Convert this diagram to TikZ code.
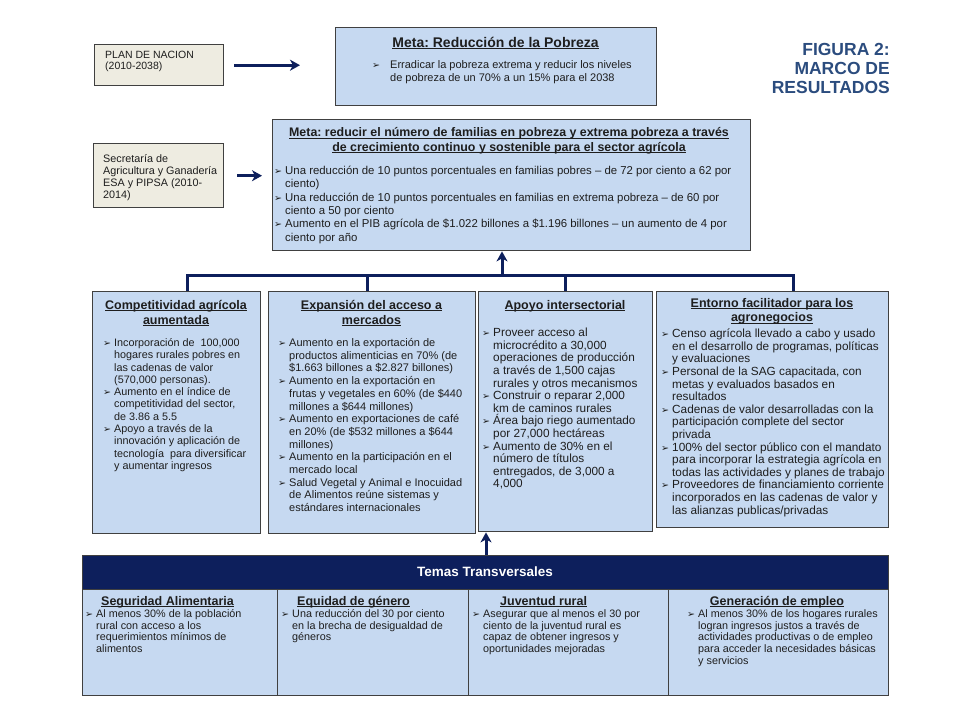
\documentclass[tikz,border=0pt]{standalone}
\usepackage{fontspec}
\setmainfont{Liberation Sans}
\newfontfamily\dvfont{DejaVu Sans}
\usetikzlibrary{arrows.meta}
\frenchspacing
\definecolor{lblue}{HTML}{C6D9F1}
\definecolor{beige}{HTML}{EEECE1}
\definecolor{bord}{HTML}{404040}
\definecolor{navy}{HTML}{0D1F5C}
\definecolor{figc}{HTML}{2B4C7E}
\definecolor{txtc}{HTML}{1E1E1E}
\newsavebox\ulbox
\newcommand{\ul}[1]{\sbox\ulbox{#1}\rlap{\rule[-0.14em]{\wd\ulbox}{0.07em}}\usebox\ulbox}
\newcommand{\lnstrut}{\rule{0pt}{1em}}
\newcommand{\bl}{\makebox[11pt][l]{\dvfont\fontsize{9.5}{9.5}\selectfont\char"27A2}}
\newcommand{\ci}{\hspace*{11pt}}
\newcommand{\blw}{\makebox[18pt][l]{\dvfont\fontsize{9.5}{9.5}\selectfont\char"27A2}}
\newcommand{\ciw}{\hspace*{18pt}}
\begin{document}
\begin{tikzpicture}[x=1pt,y=-1pt,
  bbox/.style={draw=bord,line width=1.4pt,fill=lblue,anchor=north west,inner sep=0pt},
  tbox/.style={draw=bord,line width=1.4pt,fill=beige,anchor=north west,inner sep=0pt},
  cellbox/.style={draw=bord,line width=1.2pt,fill=lblue,anchor=north west,inner sep=0pt},
  conn/.style={draw=navy,line width=3pt},
  arr/.style={draw=navy,line width=3pt,-{Stealth[length=10pt,width=11pt,inset=3pt]}},
  body/.style={anchor=north west,inner sep=0pt,align=left,text=txtc},
  head/.style={anchor=north,inner sep=0pt,align=center,text=txtc,font=\bfseries\fontsize{12.5}{15}\selectfont},
  headw/.style={anchor=north west,inner sep=0pt,align=left,text=txtc,font=\bfseries\fontsize{12.5}{15}\selectfont},
]
\useasboundingbox (0,0) rectangle (960,720);

% ---- top row
\node[tbox,minimum width=129pt,minimum height=41pt] (plan) at (94,44) {};
\node[body,font=\fontsize{10.5}{11.5}\selectfont] (plant) at (105,47.6) {\lnstrut PLAN DE NACION\\(2010-2038)};

\node[bbox,minimum width=321pt,minimum height=78pt] (m1) at (335,27) {};
\node[head,font=\bfseries\fontsize{14}{16}\selectfont] (m1h) at (495.5,33.2) {\lnstrut\ul{Meta: Reducción de la Pobreza}};
\node[body,font=\fontsize{11}{13}\selectfont] (m1t) at (372,57.5) {\lnstrut\blw Erradicar la pobreza extrema y reducir los niveles\\\ciw de pobreza de un 70\% a un 15\% para el 2038};

\node[anchor=north east,inner sep=0pt,align=right,text=figc,font=\bfseries\fontsize{17.5}{19}\selectfont] (fig) at (890,38) {\lnstrut FIGURA 2:\\MARCO DE\\RESULTADOS};

\draw[arr] ([xshift=10pt]plan.east) -- ([xshift=-35pt]plan.east -| m1.west);

% ---- second row
\node[tbox,minimum width=130pt,minimum height=64pt] (sec) at (93,143) {};
\node[body,font=\fontsize{10.8}{12}\selectfont] (sect) at (103,151.4) {\lnstrut Secretaría de\\Agricultura y Ganadería\\ESA y PIPSA (2010-\\2014)};

\node[bbox,minimum width=478pt,minimum height=131pt] (m2) at (272,119) {};
\node[head,font=\bfseries\fontsize{12.4}{14.5}\selectfont] (m2h) at (509,124.3) {\lnstrut\ul{Meta: reducir el número de familias en pobreza y extrema pobreza a través}\\\ul{de crecimiento continuo y sostenible para el sector agrícola}};
\node[body,font=\fontsize{11.4}{13.3}\selectfont] (m2t) at (274,163) {\lnstrut\bl Una reducción de 10 puntos porcentuales en familias pobres – de 72 por ciento a 62 por\\\ci ciento)\\\bl Una reducción de 10 puntos porcentuales en familias en extrema pobreza – de 60 por\\\ci ciento a 50 por ciento\\\bl Aumento en el PIB agrícola de \$1.022 billones a \$1.196 billones – un aumento de 4 por\\\ci ciento por año};

\draw[arr] ([xshift=13pt]sec.east) -- ([xshift=-10pt]sec.east -| m2.west);

% ---- four result boxes
\node[bbox,minimum width=168pt,minimum height=242pt] (ba) at (92,291) {};
\node[bbox,minimum width=207pt,minimum height=242pt] (bb) at (268,291) {};
\node[bbox,minimum width=174pt,minimum height=240pt] (bc) at (478,291) {};
\node[bbox,minimum width=232pt,minimum height=236pt] (bd) at (656,291) {};

\node[head] (bah) at (176,296.3) {\lnstrut\ul{Competitividad agrícola}\\\ul{aumentada}};
\node[body,font=\fontsize{10.8}{12.3}\selectfont] (bat) at (103,335.4) {\lnstrut\bl Incorporación de~ 100,000\\\ci hogares rurales pobres en\\\ci las cadenas de valor\\\ci (570,000 personas).\\\bl Aumento en el índice de\\\ci competitividad del sector,\\\ci de 3.86 a 5.5\\\bl Apoyo a través de la\\\ci innovación y aplicación de\\\ci tecnología~ para diversificar\\\ci y aumentar ingresos};

\node[head] (bbh) at (371.5,296.3) {\lnstrut\ul{Expansión del acceso a}\\\ul{mercados}};
\node[body,font=\fontsize{11}{12.7}\selectfont] (bbt) at (278,335.3) {\lnstrut\bl Aumento en la exportación de\\\ci productos alimenticias en 70\% (de\\\ci \$1.663 billones a \$2.827 billones)\\\bl Aumento en la exportación en\\\ci frutas y vegetales en 60\% (de \$440\\\ci millones a \$644 millones)\\\bl Aumento en exportaciones de café\\\ci en 20\% (de \$532 millones a \$644\\\ci millones)\\\bl Aumento en la participación en el\\\ci mercado local\\\bl Salud Vegetal y Animal e Inocuidad\\\ci de Alimentos reúne sistemas y\\\ci estándares internacionales};

\node[head] (bch) at (565,296.3) {\lnstrut\ul{Apoyo intersectorial}};
\node[body,font=\fontsize{11.8}{12.6}\selectfont] (bct) at (482,324.7) {\lnstrut\bl Proveer acceso al\\\ci microcrédito a 30,000\\\ci operaciones de producción\\\ci a través de 1,500 cajas\\\ci rurales y otros mecanismos\\\bl Construir o reparar 2,000\\\ci km de caminos rurales\\\bl Área bajo riego aumentado\\\ci por 27,000 hectáreas\\\bl Aumento de 30\% en el\\\ci número de títulos\\\ci entregados, de 3,000 a\\\ci 4,000};

\node[head,font=\bfseries\fontsize{12.5}{14.3}\selectfont] (bdh) at (772,294.8) {\lnstrut\ul{Entorno facilitador para los}\\\ul{agronegocios}};
\node[body,font=\fontsize{11.8}{12.6}\selectfont] (bdt) at (661,325.7) {\lnstrut\bl Censo agrícola llevado a cabo y usado\\\ci en el desarrollo de programas, políticas\\\ci y evaluaciones\\\bl Personal de la SAG capacitada, con\\\ci metas y evaluados basados en\\\ci resultados\\\bl Cadenas de valor desarrolladas con la\\\ci participación complete del sector\\\ci privada\\\bl 100\% del sector público con el mandato\\\ci para incorporar la estrategia agrícola en\\\ci todas las actividades y planes de trabajo\\\bl Proveedores de financiamiento corriente\\\ci incorporados en las cadenas de valor y\\\ci las alianzas publicas/privadas};

% ---- tree connector
\coordinate (hub) at (502,275);
\coordinate (ta) at (187,275);
\coordinate (tb) at (367,275);
\coordinate (tc) at (565,275);
\coordinate (td) at (793,275);
\draw[conn,line join=miter] (ta |- ba.north) -- (ta) -- (td) -- (td |- bd.north);
\draw[conn] (tb) -- (tb |- bb.north);
\draw[conn] (tc) -- (tc |- bc.north);
\draw[arr] ([yshift=1.5pt]hub) -- (hub |- m2.south);

% ---- cross-cutting themes
\node[draw=bord,line width=1.2pt,fill=navy,anchor=north west,inner sep=0pt,minimum width=806pt,minimum height=34pt] (band) at (82,555) {};
\node[text=white,font=\bfseries\fontsize{13.5}{16}\selectfont,inner sep=0pt] (bandt) at (485,572) {Temas Transversales};
\node[cellbox,minimum width=195pt,minimum height=106pt] (c1) at (82,589) {};
\node[cellbox,minimum width=191pt,minimum height=106pt] (c2) at (277,589) {};
\node[cellbox,minimum width=200pt,minimum height=106pt] (c3) at (468,589) {};
\node[cellbox,minimum width=220pt,minimum height=106pt] (c4) at (668,589) {};

\coordinate (up) at (486,555);
\draw[arr] (up) -- (up |- bc.south);

\node[headw] (c1h) at (101,592.4) {\lnstrut\ul{Seguridad Alimentaria}};
\node[body,font=\fontsize{10.8}{11.6}\selectfont] (c1t) at (85,606.6) {\lnstrut\bl Al menos 30\% de la población\\\ci rural con acceso a los\\\ci requerimientos mínimos de\\\ci alimentos};
\node[headw] (c2h) at (297,592.4) {\lnstrut\ul{Equidad de género}};
\node[body,font=\fontsize{10.8}{11.6}\selectfont] (c2t) at (281,606.6) {\lnstrut\bl Una reducción del 30 por ciento\\\ci en la brecha de desigualdad de\\\ci géneros};
\node[headw] (c3h) at (500,592.4) {\lnstrut\ul{Juventud rural}};
\node[body,font=\fontsize{10.8}{11.6}\selectfont] (c3t) at (472,606.6) {\lnstrut\bl Asegurar que al menos el 30 por\\\ci ciento de la juventud rural es\\\ci capaz de obtener ingresos y\\\ci oportunidades mejoradas};
\node[head] (c4h) at (777,592.4) {\lnstrut\ul{Generación de empleo}};
\node[body,font=\fontsize{10.8}{11.6}\selectfont] (c4t) at (687,606.6) {\lnstrut\bl Al menos 30\% de los hogares rurales\\\ci logran ingresos justos a través de\\\ci actividades productivas o de empleo\\\ci para acceder la necesidades básicas\\\ci y servicios};
\end{tikzpicture}
\end{document}
